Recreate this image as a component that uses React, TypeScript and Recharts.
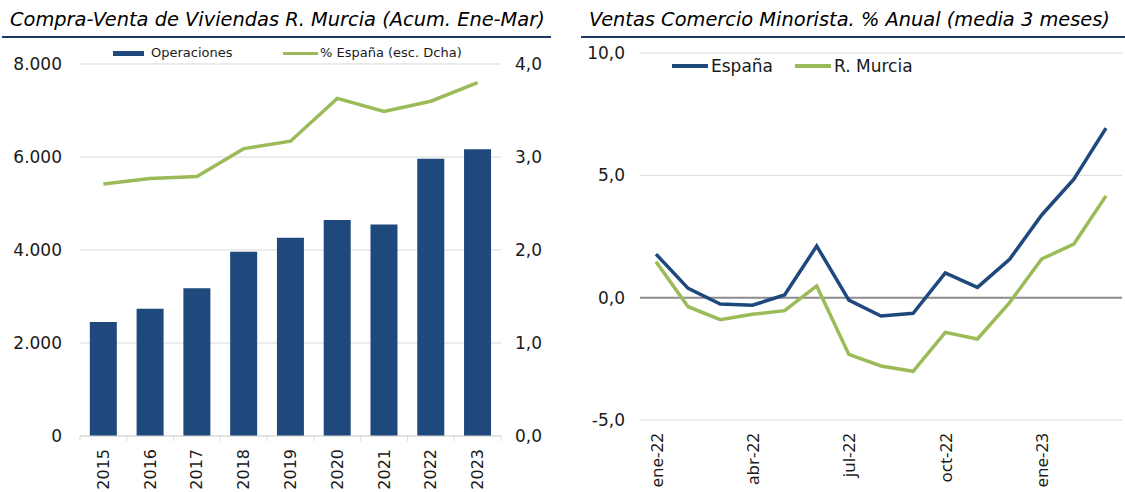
import { Bar, CartesianGrid, ComposedChart, Line, LineChart, ReferenceLine, XAxis, YAxis } from "recharts"

const years = ["2015", "2016", "2017", "2018", "2019", "2020", "2021", "2022", "2023"]
const operaciones = [2450, 2735, 3180, 3960, 4265, 4645, 4550, 5960, 6165]
const pctEspana = [2.71, 2.77, 2.79, 3.09, 3.17, 3.63, 3.49, 3.6, 3.8]

const months = [
  "ene-22", "feb-22", "mar-22", "abr-22", "may-22", "jun-22", "jul-22", "ago-22",
  "sep-22", "oct-22", "nov-22", "dic-22", "ene-23", "feb-23", "mar-23",
]
const ventasEspana = [1.78, 0.38, -0.26, -0.31, 0.11, 2.11, -0.1, -0.75, -0.64, 1.01, 0.42, 1.57, 3.38, 4.84, 6.93]
const ventasMurcia = [1.47, -0.37, -0.9, -0.68, -0.53, 0.48, -2.32, -2.79, -3.01, -1.42, -1.69, -0.2, 1.58, 2.19, 4.16]

const leftTicks = [0, 2000, 4000, 6000, 8000]
const rightTicks = [0, 1, 2, 3, 4]
const ventasTicks = [-5, 0, 5, 10]

const NAVY = "#1F497D"
const GREEN = "#9BBB59"
const GRID = "#D9D9D9"
const VERDANA = "'DejaVu Sans', Verdana, sans-serif"
const TEXT = "#1a1a1a"

const viviendasData = years.map((year, i) => ({ year, operaciones: operaciones[i], pct: pctEspana[i] }))
const ventasData = months.map((month, i) => ({ month, espana: ventasEspana[i], murcia: ventasMurcia[i] }))

const fmtMiles = (v: number) => String(v).replace(/\B(?=(\d{3})+(?!\d))/g, ".")
const fmtComa = (v: number) => v.toFixed(1).replace(".", ",")

const LEFT_PLOT_W = 421
const YEAR_MARGIN = 13

function YearTick(props: any) {
  const { x, y, payload, index } = props
  const half = LEFT_PLOT_W / years.length / 2
  const axisY = y - YEAR_MARGIN
  return (
    <g>
      <line x1={x - half} x2={x - half} y1={axisY} y2={axisY + 5} stroke={GRID} />
      {index === years.length - 1 && <line x1={x + half} x2={x + half} y1={axisY} y2={axisY + 5} stroke={GRID} />}
      <text
        x={x}
        y={y}
        transform={`rotate(-90 ${x} ${y})`}
        textAnchor="end"
        dominantBaseline="central"
        fontFamily={VERDANA}
        fontSize={16}
        fill={TEXT}
      >
        {payload.value}
      </text>
    </g>
  )
}

function MonthTick(props: any) {
  const { x, y, payload } = props
  return (
    <text
      x={x}
      y={y}
      transform={`rotate(-90 ${x} ${y})`}
      textAnchor="end"
      dominantBaseline="central"
      fontFamily="'Noto Sans', sans-serif"
      fontSize={17}
      fill={TEXT}
    >
      {payload.value}
    </text>
  )
}

function Title({ left, width, text }: { left: number; width: number; text: string }) {
  return (
    <>
      <div
        style={{
          position: "absolute",
          left,
          top: 9,
          fontFamily: VERDANA,
          fontStyle: "italic",
          fontSize: 19.4,
          lineHeight: "22px",
          color: "#000",
          whiteSpace: "nowrap",
        }}
      >
        {text}
      </div>
      <div style={{ position: "absolute", left: left - 8, top: 36, width, height: 2, background: "#1F3864" }} />
    </>
  )
}

function LegendItem({ left, top, swatch, label, fontSize }: any) {
  return (
    <div style={{ position: "absolute", left, top, display: "flex", alignItems: "center", whiteSpace: "nowrap" }}>
      <div style={{ width: swatch.w, height: swatch.h, background: swatch.color, marginRight: swatch.gap }} />
      <span style={{ fontFamily: VERDANA, fontSize, color: TEXT, lineHeight: "20px" }}>{label}</span>
    </div>
  )
}

export default function App() {
  return (
    <div style={{ position: "absolute", left: 0, top: 0, width: 1125, height: 492, background: "#fff" }}>
      <Title left={10} width={549} text="Compra-Venta de Viviendas R. Murcia (Acum. Ene-Mar)" />
      <Title left={589} width={544} text="Ventas Comercio Minorista. % Anual (media 3 meses)" />

      <div style={{ position: "absolute", left: 0, top: 0 }}>
        <ComposedChart width={560} height={492} data={viviendasData} margin={{ top: 64, right: 0, bottom: 0, left: 0 }} barCategoryGap="21%">
          <CartesianGrid vertical={false} stroke={GRID} yAxisId="left" />
          <XAxis
            dataKey="year"
            height={56}
            tickLine={false}
            tickSize={0}
            tickMargin={YEAR_MARGIN}
            stroke={GRID}
            tick={<YearTick />}
            interval={0}
          />
          <YAxis
            yAxisId="left"
            width={80}
            domain={[0, 8000]}
            ticks={leftTicks}
            tickFormatter={fmtMiles}
            axisLine={false}
            tickLine={false}
            tickMargin={12}
            tick={{ fontFamily: VERDANA, fontSize: 17, fill: TEXT }}
          />
          <YAxis
            yAxisId="right"
            orientation="right"
            width={59}
            domain={[0, 4]}
            ticks={rightTicks}
            tickFormatter={fmtComa}
            axisLine={false}
            tickLine={false}
            tickMargin={8}
            tick={{ fontFamily: VERDANA, fontSize: 17, fill: TEXT, textAnchor: "start" }}
          />
          <Bar yAxisId="left" dataKey="operaciones" fill={NAVY} isAnimationActive={false} />
          <Line yAxisId="right" dataKey="pct" stroke={GREEN} strokeWidth={3.5} dot={false} isAnimationActive={false} />
        </ComposedChart>
      </div>

      <LegendItem left={113} top={43} swatch={{ w: 31, h: 5, color: NAVY, gap: 7 }} label="Operaciones" fontSize={13} />
      <LegendItem left={283} top={43} swatch={{ w: 35, h: 3, color: GREEN, gap: 2 }} label="% España (esc. Dcha)" fontSize={13} />

      <div style={{ position: "absolute", left: 560, top: 0 }}>
        <LineChart width={565} height={492} data={ventasData} margin={{ top: 53, right: 3, bottom: 0, left: 0 }}>
          <CartesianGrid vertical={false} stroke={GRID} />
          <XAxis
            dataKey="month"
            height={72}
            axisLine={false}
            tickLine={false}
            tickSize={0}
            tickMargin={13}
            interval={2}
            padding={{ left: 16, right: 16 }}
            tick={<MonthTick />}
          />
          <YAxis
            width={80}
            domain={[-5, 10]}
            ticks={ventasTicks}
            tickFormatter={fmtComa}
            axisLine={false}
            tickLine={false}
            tickMargin={9}
            tick={{ fontFamily: VERDANA, fontSize: 17, fill: TEXT }}
          />
          <ReferenceLine y={0} stroke="#8C8C8C" strokeWidth={2} />
          <Line dataKey="espana" stroke={NAVY} strokeWidth={3.5} dot={false} isAnimationActive={false} />
          <Line dataKey="murcia" stroke={GREEN} strokeWidth={3.5} dot={false} isAnimationActive={false} />
        </LineChart>
      </div>

      <LegendItem left={672} top={56} swatch={{ w: 36, h: 4, color: NAVY, gap: 3 }} label="España" fontSize={17} />
      <LegendItem left={795} top={56} swatch={{ w: 36, h: 4, color: GREEN, gap: 3 }} label="R. Murcia" fontSize={17} />
    </div>
  )
}
